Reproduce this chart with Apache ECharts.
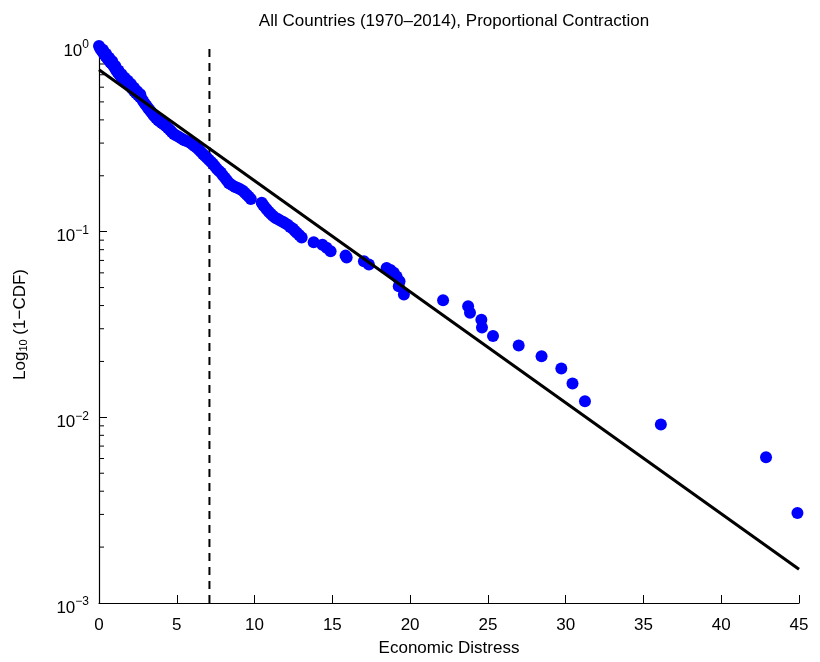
<!DOCTYPE html>
<html>
<head>
<meta charset="utf-8">
<script src="https://cdn.jsdelivr.net/npm/echarts@6/dist/echarts.min.js"></script>
<style>
  html, body { margin: 0; padding: 0; background: #fff; }
  #chart { width: 820px; height: 662px; }
</style>
</head>
<body>
<div id="chart"></div>
<script>
// Empirical tail distribution of economic distress (1 - CDF), all countries 1970-2014
const distressX = [
  0.00, 0.06, 0.13, 0.22, 0.32, 0.41, 0.51, 0.61, 0.71, 0.80,
  0.90, 1.00, 1.09, 1.18, 1.28, 1.38, 1.48, 1.60, 1.73, 1.86,
  1.99, 2.12, 2.25, 2.37, 2.50, 2.63, 2.76, 2.85, 2.95, 3.05,
  3.15, 3.24, 3.34, 3.44, 3.53, 3.66, 3.79, 3.91, 4.04, 4.17,
  4.30, 4.43, 4.56, 4.68, 4.81, 4.97, 5.13, 5.30, 5.46, 5.62,
  5.78, 5.90, 6.03, 6.16, 6.29, 6.42, 6.55, 6.68, 6.80, 6.93,
  7.06, 7.19, 7.32, 7.45, 7.57, 7.70, 7.83, 7.96, 8.09, 8.22,
  8.34, 8.47, 8.60, 8.76, 8.92, 9.08, 9.24, 9.37, 9.50, 9.63,
  9.76, 10.46, 10.55, 10.65, 10.78, 10.91, 11.04, 11.17, 11.33, 11.49,
  11.65, 11.81, 11.97, 12.13, 12.29, 12.45, 12.58, 12.71, 12.87, 13.03,
  0.25, 0.45, 0.65, 0.85, 1.05, 1.25, 1.45, 1.65, 1.85, 2.05, 2.25, 2.45, 2.65,
  13.80, 14.36, 14.63, 14.89, 15.85, 15.92, 17.03, 17.35, 18.49,
  18.74, 18.95, 19.13, 19.32, 19.27, 19.60,
  22.12, 23.73, 23.85, 24.58, 24.62, 25.33, 26.98, 28.45, 29.72, 30.44,
  31.24, 36.12, 42.88, 44.90
];
const distressY = [
  1.000, 0.975, 0.955, 0.930, 0.906, 0.884, 0.862, 0.840, 0.820, 0.805,
  0.791, 0.766, 0.743, 0.725, 0.707, 0.690, 0.673, 0.656, 0.640, 0.624,
  0.609, 0.591, 0.573, 0.559, 0.545, 0.532, 0.519, 0.503, 0.488, 0.476,
  0.464, 0.453, 0.442, 0.431, 0.421, 0.410, 0.400, 0.392, 0.385, 0.378,
  0.371, 0.362, 0.353, 0.344, 0.336, 0.330, 0.324, 0.318, 0.312, 0.308,
  0.305, 0.300, 0.294, 0.288, 0.283, 0.276, 0.269, 0.262, 0.256, 0.250,
  0.244, 0.238, 0.232, 0.225, 0.218, 0.213, 0.208, 0.201, 0.195, 0.189,
  0.183, 0.180, 0.177, 0.174, 0.172, 0.169, 0.166, 0.162, 0.158, 0.154,
  0.150, 0.143, 0.139, 0.136, 0.132, 0.128, 0.125, 0.122, 0.119, 0.117,
  0.115, 0.113, 0.111, 0.109, 0.106, 0.104, 0.101, 0.0988, 0.0960, 0.0929,
  0.955, 0.908, 0.864, 0.828, 0.781, 0.739, 0.704, 0.675, 0.649, 0.624, 0.595, 0.571, 0.550,
  0.0876, 0.0851, 0.0820, 0.0784, 0.0743, 0.0725, 0.0692, 0.0665, 0.0638,
  0.0621, 0.0600, 0.0573, 0.0541, 0.0508, 0.0459,
  0.0427, 0.0396, 0.0366, 0.0335, 0.0305, 0.0274, 0.0244, 0.0213, 0.0183, 0.0152,
  0.0122, 0.00915, 0.00610, 0.00305
];

// Exponential (log-linear) fit, endpoints of the straight line
const fitX = [0, 45];
const fitY = [0.745, 0.00152];

// Threshold marker
const thresholdX = 7.1;

// Axis setup
const xTicks = [0, 5, 10, 15, 20, 25, 30, 35, 40, 45];
const yDecades = [-3, -2, -1, 0];
const minorTickValues = [];
for (let k = yDecades[0]; k < yDecades[yDecades.length - 1]; k++) {
  for (let m = 2; m <= 9; m++) minorTickValues.push(m * Math.pow(10, k));
}

const FONT = '"Liberation Sans", Arial, sans-serif';

const chart = echarts.init(document.getElementById('chart'), null, { renderer: 'canvas' });

chart.setOption({
  animation: false,
  backgroundColor: '#ffffff',
  title: {
    text: 'All Countries (1970\u20132014), Proportional Contraction',
    left: 449,
    textAlign: 'center',
    top: 8,
    textStyle: { fontFamily: FONT, fontSize: 17, fontWeight: 'normal', color: '#000' }
  },
  grid: { left: 98, right: 21, top: 46, bottom: 58, containLabel: false },
  xAxis: {
    type: 'value',
    min: xTicks[0],
    max: xTicks[xTicks.length - 1],
    interval: 5,
    name: 'Economic Distress',
    nameLocation: 'middle',
    nameGap: 37,
    nameTextStyle: { fontFamily: FONT, fontSize: 17, color: '#000' },
    axisLine: { show: true, onZero: false, lineStyle: { color: '#000', width: 1.2 } },
    axisTick: { show: true, inside: true, length: 8, lineStyle: { color: '#000', width: 1 } },
    axisLabel: { fontFamily: FONT, fontSize: 17, color: '#000', margin: 14 },
    splitLine: { show: false }
  },
  yAxis: {
    type: 'log',
    logBase: 10,
    min: Math.pow(10, yDecades[0]),
    max: Math.pow(10, yDecades[yDecades.length - 1]),
    name: '{b|Log}{s|10}{b| (1\u2212CDF)}',
    nameLocation: 'middle',
    nameRotate: 90,
    nameGap: 70,
    nameTextStyle: {
      rich: {
        b: { fontFamily: FONT, fontSize: 17, lineHeight: 17, color: '#000' },
        s: { fontFamily: FONT, fontSize: 11, lineHeight: 11, color: '#000', verticalAlign: 'bottom', padding: [10, 0, 0, 0] }
      }
    },
    axisLine: { show: true, lineStyle: { color: '#000', width: 1.2 } },
    axisTick: { show: true, inside: true, length: 8, lineStyle: { color: '#000', width: 1 } },
    axisLabel: {
      margin: 10,
      padding: [10, 0, 0, 0],
      formatter: function (v) {
        const e = Math.round(Math.log10(v));
        return '{b|10}{s|' + (e < 0 ? '\u2212' + (-e) : String(e)) + '}';
      },
      rich: {
        b: { fontFamily: FONT, fontSize: 17, color: '#000' },
        s: { fontFamily: FONT, fontSize: 12, color: '#000', padding: [0, 0, 12, 0] }
      }
    },
    splitLine: { show: false }
  },
  series: [
    {
      name: 'minor ticks',
      type: 'custom',
      silent: true,
      clip: false,
      data: minorTickValues.map(v => [0, v]),
      encode: { x: 0, y: 1 },
      renderItem: function (params, api) {
        const p = api.coord([api.value(0), api.value(1)]);
        return {
          type: 'line',
          shape: { x1: p[0], y1: p[1], x2: p[0] + 5, y2: p[1] },
          style: { stroke: '#000', lineWidth: 1 }
        };
      },
      z: 1
    },
    {
      name: 'threshold',
      type: 'line',
      data: [[thresholdX, Math.pow(10, yDecades[0])], [thresholdX, Math.pow(10, yDecades[yDecades.length - 1])]],
      symbol: 'none',
      lineStyle: { color: '#000', width: 2, type: [8, 6] },
      z: 2
    },
    {
      name: 'distress',
      type: 'scatter',
      clip: false,
      data: distressX.map((x, i) => [x, distressY[i]]),
      symbol: 'circle',
      symbolSize: 12,
      itemStyle: { color: '#0000ff', opacity: 1 },
      z: 3
    },
    {
      name: 'fit',
      type: 'line',
      data: fitX.map((x, i) => [x, fitY[i]]),
      symbol: 'none',
      lineStyle: { color: '#000', width: 3 },
      z: 4
    }
  ]
});
</script>
</body>
</html>
